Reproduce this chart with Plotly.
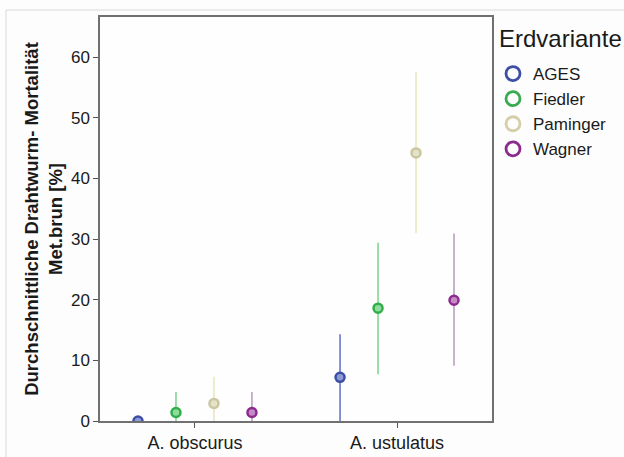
import plotly.graph_objects as go

categories = ["A. obscurus", "A. ustulatus"]
series_names = ["AGES", "Fiedler", "Paminger", "Wagner"]
means = {
    "AGES": [0.0, 7.2],
    "Fiedler": [1.4, 18.6],
    "Paminger": [2.9, 44.2],
    "Wagner": [1.4, 19.9],
}
upper = {
    "AGES": [0.0, 14.3],
    "Fiedler": [4.8, 29.4],
    "Paminger": [7.3, 57.5],
    "Wagner": [4.8, 30.9],
}
lower = {
    "AGES": [0.0, 0.0],
    "Fiedler": [0.0, 7.7],
    "Paminger": [0.0, 31.0],
    "Wagner": [0.0, 9.1],
}
y_ticks = [0, 10, 20, 30, 40, 50, 60]

marker_colors = {"AGES": "#3b4fa6", "Fiedler": "#2fae4a", "Paminger": "#c9c6a0", "Wagner": "#8b2a8c"}
fill_colors = {"AGES": "#8e9ad6", "Fiedler": "#8fdc9c", "Paminger": "#e4e2c8", "Wagner": "#c78ac8"}
err_colors = {"AGES": "#6a78c4", "Fiedler": "#86d494", "Paminger": "#e9e8bd", "Wagner": "#b6a3bb"}
legend_colors = {"AGES": "#3d4fa5", "Fiedler": "#3aaa50", "Paminger": "#d6ceaa", "Wagner": "#8a2a8a"}
offsets = [-0.282, -0.094, 0.094, 0.282]

PL, PR, PT, PB = 100, 492, 17, 421
W, H = 624, 457
pw, ph = PR - PL, PB - PT


def px_x(x):
    return (x - PL) / pw


def px_y(y):
    return (PB - y) / ph


fig = go.Figure()
for i, name in enumerate(series_names):
    xs = [c + offsets[i] for c in range(len(categories))]
    m = means[name]
    fig.add_trace(go.Scatter(
        x=xs, y=m, mode="markers", showlegend=False,
        marker=dict(symbol="circle", size=9, color=fill_colors[name],
                    line=dict(color=marker_colors[name], width=2.5)),
        error_y=dict(type="data", symmetric=False,
                     array=[u - v for u, v in zip(upper[name], m)],
                     arrayminus=[v - l for v, l in zip(m, lower[name])],
                     color=err_colors[name], thickness=1.6, width=0),
    ))
for name in series_names:
    fig.add_trace(go.Scatter(
        x=[None], y=[None], mode="markers", name=name,
        marker=dict(symbol="circle-open", size=14, color=legend_colors[name],
                    line=dict(color=legend_colors[name], width=2.8)),
    ))

# outer light frame
fig.add_shape(type="rect", xref="paper", yref="paper",
              x0=px_x(6), x1=px_x(640), y0=px_y(470), y1=px_y(10),
              line=dict(color="#d8d8d8", width=1), fillcolor="rgba(0,0,0,0)", layer="below")

fig.add_annotation(text="Erdvariante", xref="paper", yref="paper",
                   x=px_x(497), y=px_y(38), xanchor="left", yanchor="middle",
                   showarrow=False, font=dict(size=24, color="#1a1a1a"))

fig.update_layout(
    width=W, height=H,
    margin=dict(l=PL, r=W - PR, t=PT, b=H - PB, autoexpand=False),
    paper_bgcolor="#fdfdfd", plot_bgcolor="#fefefe",
    font=dict(family="Liberation Sans, Arial, sans-serif", color="#1a1a1a"),
    legend=dict(
        font=dict(size=17, color="#1a1a1a"),
        x=px_x(493), xanchor="left", y=px_y(56), yanchor="top",
        itemsizing="trace", tracegroupgap=0, bgcolor="rgba(0,0,0,0)",
        itemwidth=30,
    ),
    xaxis=dict(
        range=[-0.47, 1.47], tickvals=list(range(len(categories))), ticktext=categories,
        showgrid=False, zeroline=False, showline=True, linecolor="#707070", linewidth=1.5,
        mirror=True, ticks="outside", ticklen=5, tickcolor="#555555",
        tickfont=dict(size=18, color="#1a1a1a"), automargin=False,
    ),
    yaxis=dict(
        range=[0, 66.6], tickvals=y_ticks, showgrid=False, zeroline=False,
        showline=True, linecolor="#707070", linewidth=1.5, mirror=True,
        ticks="outside", ticklen=5, tickcolor="#555555",
        tickfont=dict(size=17, color="#1a1a1a"), automargin=False,
        title=dict(text="<b>Durchschnittliche Drahtwurm- Mortalität<br>Met.brun [%]</b>",
                   font=dict(size=18.5, color="#1a1a1a"), standoff=3),
    ),
)

fig.write_html("out.html")
